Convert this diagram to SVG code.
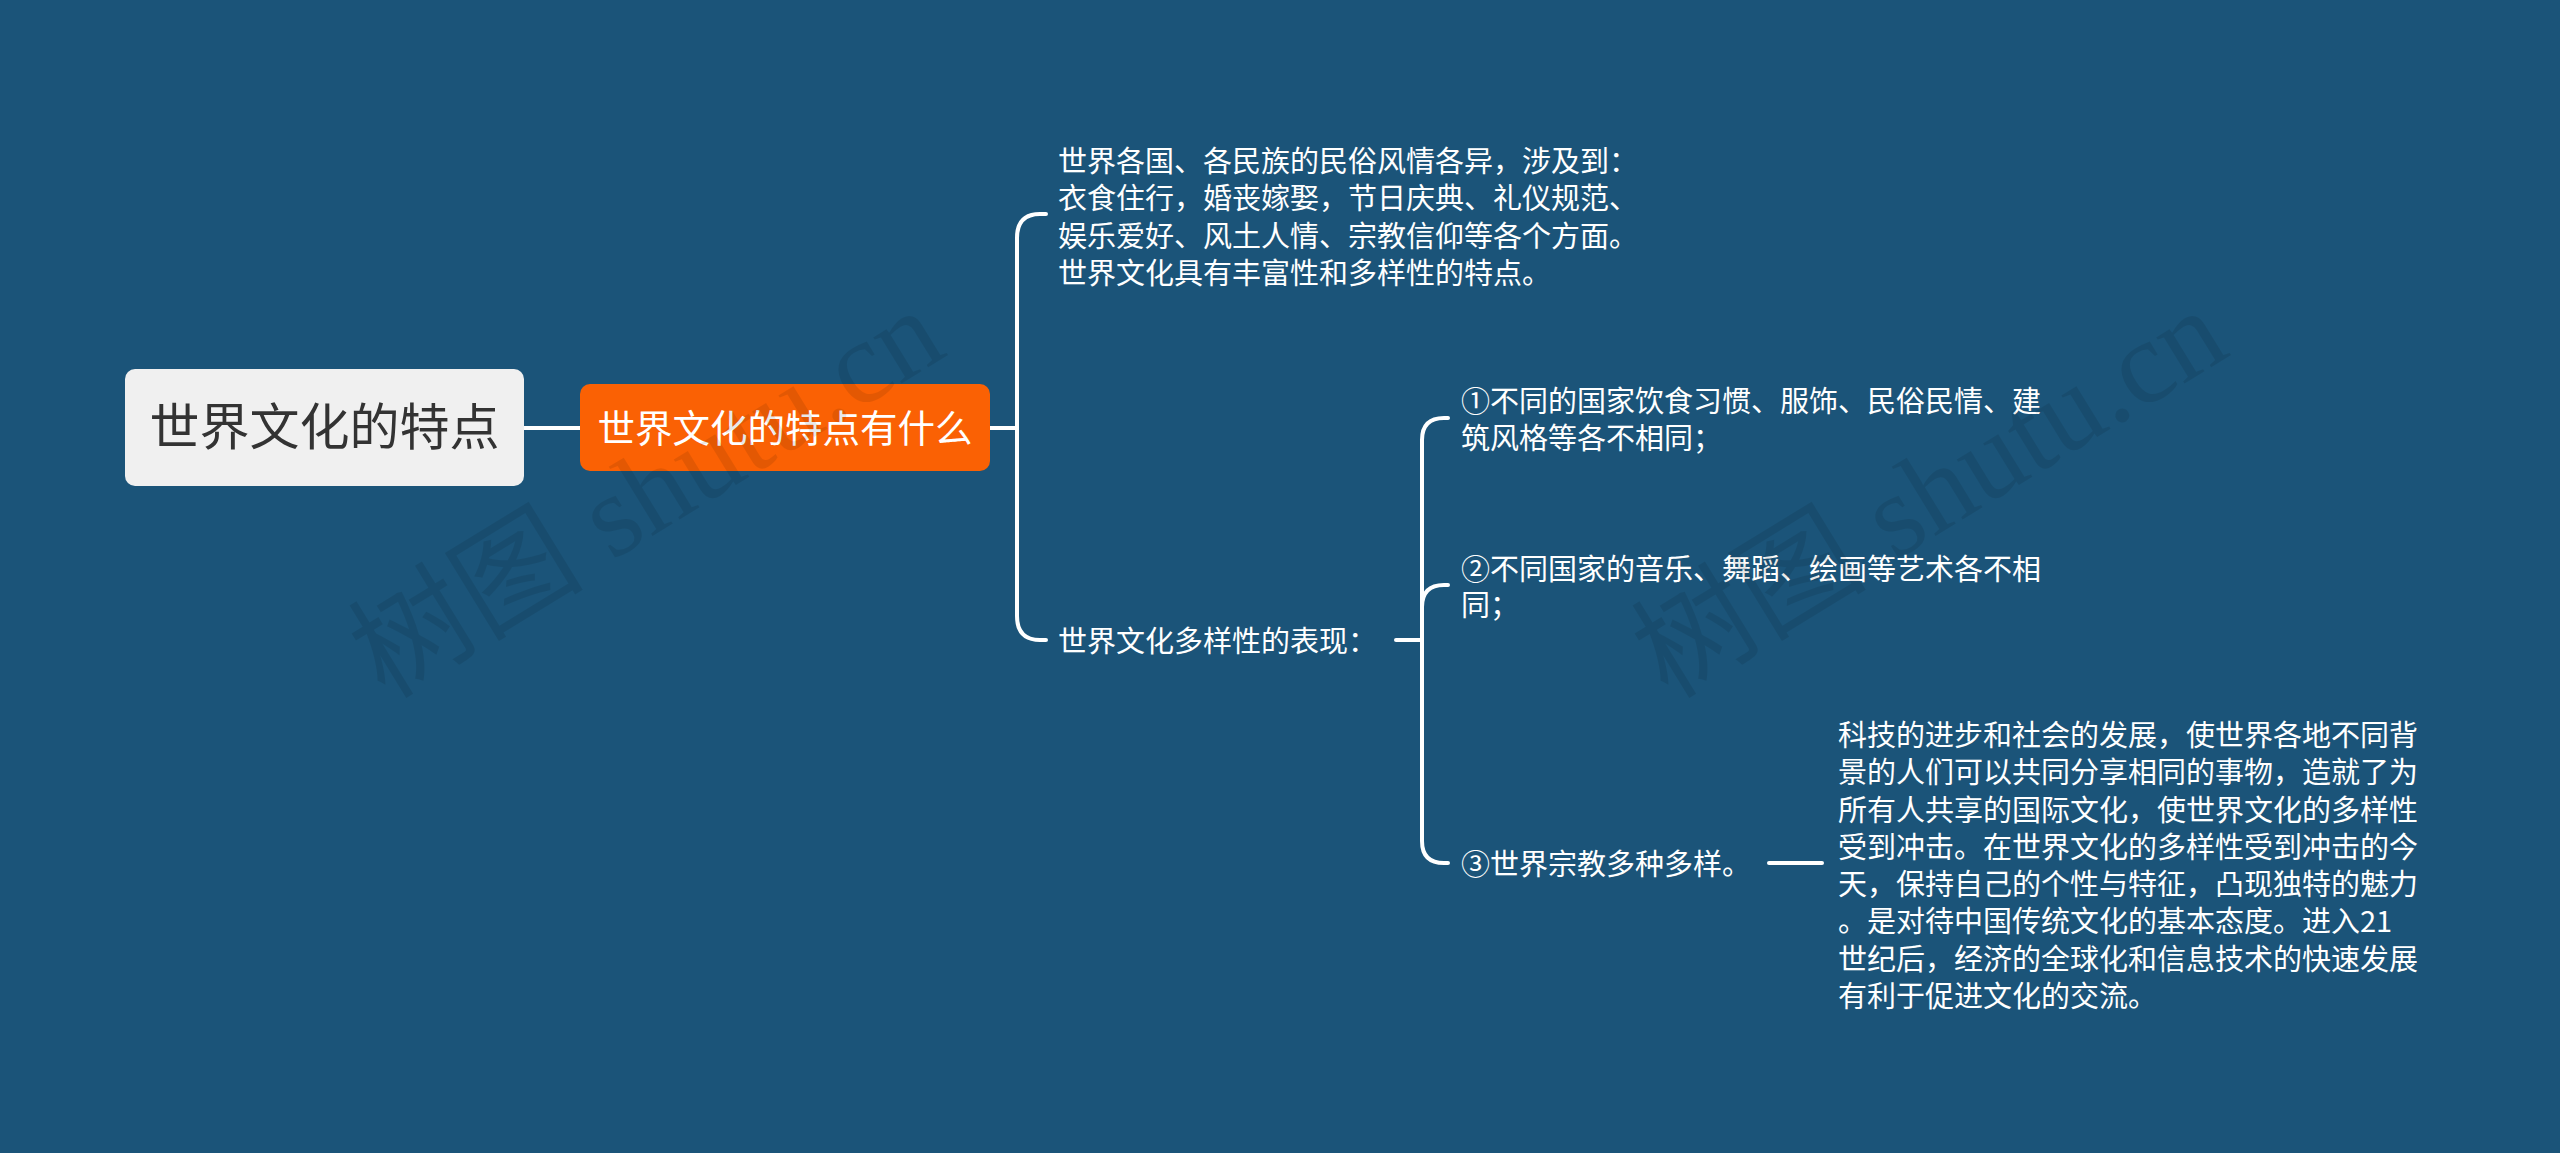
<svg xmlns="http://www.w3.org/2000/svg" width="2560" height="1153" viewBox="0 0 2560 1153">
<style>
.t{font-family:"Noto Sans CJK SC","Noto Sans",sans-serif;fill:#ffffff;font-size:29px}
.conn{fill:none;stroke:#ffffff;stroke-width:4;stroke-linecap:round}
.wm{font-family:"Liberation Serif","Noto Sans CJK SC",serif;font-size:118px;fill:#000000;fill-opacity:0.09}
</style>
<rect x="0" y="0" width="2560" height="1153" fill="#1b5479"/>
<g id="connectors">
<path class="conn" d="M524 428 H580"/>
<path class="conn" d="M990 428 H1017"/>
<path class="conn" d="M1046 214 H1040 Q1017 214 1017 238 V616 Q1017 640 1040 640 H1046"/>
<path class="conn" d="M1396 640 H1422"/>
<path class="conn" d="M1448 418 H1444 Q1422 418 1422 440 V841 Q1422 863 1444 863 H1448"/>
<path class="conn" d="M1422 607 Q1422 585 1444 585 H1448"/>
<path class="conn" d="M1769 863 H1822"/>
</g>
<g id="root">
<rect x="125" y="369" width="399" height="117" rx="10" fill="#f0f0f0"/>
<text x="324.5" y="444.5" text-anchor="middle" style="font-family:'Noto Sans CJK SC',sans-serif;font-size:50px;fill:#333333">世界文化的特点</text>
</g>
<g id="main-topic">
<rect x="580" y="384" width="410" height="87" rx="10" fill="#fa6104"/>
<text x="785" y="441.5" text-anchor="middle" style="font-family:'Noto Sans CJK SC',sans-serif;font-size:37.5px;fill:#ffffff">世界文化的特点有什么</text>
</g>
<g id="topic-customs">
<text class="t" x="1058"><tspan x="1058" y="171.5">世界各国、各民族的民俗风情各异，涉及到：</tspan><tspan x="1058" y="209">衣食住行，婚丧嫁娶，节日庆典、礼仪规范、</tspan><tspan x="1058" y="246.5">娱乐爱好、风土人情、宗教信仰等各个方面。</tspan><tspan x="1058" y="284">世界文化具有丰富性和多样性的特点。</tspan></text>
</g>
<g id="topic-diversity">
<text class="t" x="1058" y="652">世界文化多样性的表现：</text>
</g>
<g id="item-1">
<text class="t"><tspan x="1461" y="412">①不同的国家饮食习惯、服饰、民俗民情、建</tspan><tspan x="1461" y="448.5">筑风格等各不相同；</tspan></text>
</g>
<g id="item-2">
<text class="t"><tspan x="1461" y="579.5">②不同国家的音乐、舞蹈、绘画等艺术各不相</tspan><tspan x="1461" y="615.5">同；</tspan></text>
</g>
<g id="item-3">
<text class="t" x="1461" y="875">③世界宗教多种多样。</text>
</g>
<g id="item-3-detail">
<text class="t"><tspan x="1838" y="746">科技的进步和社会的发展，使世界各地不同背</tspan><tspan x="1838" y="783.3">景的人们可以共同分享相同的事物，造就了为</tspan><tspan x="1838" y="820.5">所有人共享的国际文化，使世界文化的多样性</tspan><tspan x="1838" y="857.8">受到冲击。在世界文化的多样性受到冲击的今</tspan><tspan x="1838" y="895">天，保持自己的个性与特征，凸现独特的魅力</tspan><tspan x="1838" y="932.3">。是对待中国传统文化的基本态度。进入21</tspan><tspan x="1838" y="969.6">世纪后，经济的全球化和信息技术的快速发展</tspan><tspan x="1838" y="1006.8">有利于促进文化的交流。</tspan></text>
</g>
<g id="watermarks">
<text class="wm" transform="translate(385,700) rotate(-31.5)">树图 shutu.cn</text>
<text class="wm" transform="translate(1668,700) rotate(-31.5)">树图 shutu.cn</text>
</g>
</svg>
